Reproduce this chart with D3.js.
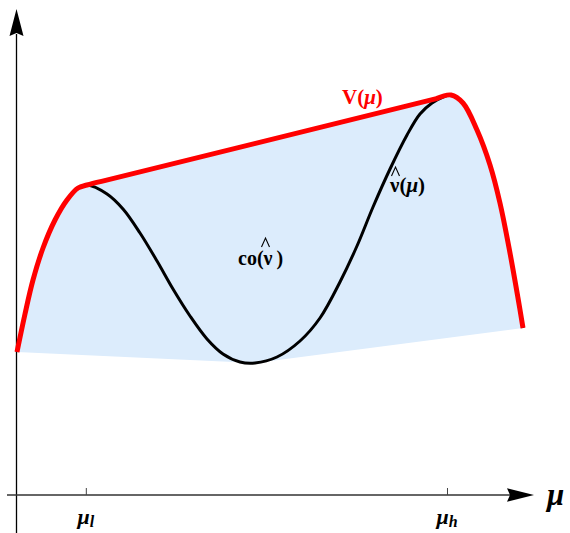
<!DOCTYPE html>
<html>
<head>
<meta charset="utf-8">
<script src="https://cdn.jsdelivr.net/npm/d3@7"></script>
<style>
  html, body { margin: 0; padding: 0; background: #fff; }
  svg { display: block; }
  text { font-family: "Liberation Serif", "Times New Roman", serif; }
</style>
</head>
<body>
<svg id="chart" width="570" height="533"></svg>
<script>
// Belief μ on [0, 1] and the value function v̂(μ) sampled along it
const mu = [0, 0.0158, 0.0316, 0.0514, 0.0751, 0.0988, 0.1206, 0.1383,
  0.1779, 0.2095, 0.2431, 0.2767, 0.3083, 0.3419, 0.3755, 0.4071, 0.4407, 0.4704,
  0.5138, 0.5593, 0.5988, 0.6383, 0.6719, 0.7036, 0.7372, 0.7708, 0.7964, 0.8202,
  0.8419, 0.8577, 0.8814, 0.9091, 0.9348, 0.9545, 0.9743, 0.9901, 1.0];
const vhat = [0.3575, 0.4525, 0.5375, 0.6175, 0.6875, 0.7375, 0.7675, 0.775,
  0.7525, 0.715, 0.655, 0.585, 0.515, 0.4475, 0.39, 0.3525, 0.3325, 0.33,
  0.345, 0.385, 0.4425, 0.5325, 0.6225, 0.72, 0.815, 0.9, 0.9525, 0.98,
  0.995, 1.0, 0.98, 0.9125, 0.825, 0.73, 0.605, 0.4925, 0.4175];
// Marked beliefs on the horizontal axis
const tickMu = [0.136, 0.8498];
const tickSub = ["l", "h"];

const svg = d3.select("#chart");
const x = d3.scaleLinear().domain([0, 1]).range([17, 523]);
const y = d3.scaleLinear().domain([0, 1]).range([495, 95]);

const pts = mu.map((m, i) => [m, vhat[i]]);

// Monotone-chain half hulls (data coordinates, y up)
function cross(o, a, b) { return (a[0] - o[0]) * (b[1] - o[1]) - (a[1] - o[1]) * (b[0] - o[0]); }
function halfHull(points, upper) {
  const h = [];
  for (const p of points) {
    while (h.length >= 2) {
      const c = cross(h[h.length - 2], h[h.length - 1], p);
      if (upper ? c >= 0 : c <= 0) h.pop(); else break;
    }
    h.push(p);
  }
  return h;
}
const upper = halfHull(pts, true);   // concave envelope V(μ)
const lower = halfHull(pts, false);  // bottom edge of co(v̂)

// The bridging chord of the envelope is its widest segment
let bi = 0;
for (let i = 1; i < upper.length - 1; i++) {
  if (upper[i + 1][0] - upper[i][0] > upper[bi + 1][0] - upper[bi][0]) bi = i;
}
const A = upper[bi], B = upper[bi + 1];
const along = t => [A[0] + t * (B[0] - A[0]), A[1] + t * (B[1] - A[1])];
// Each arc runs a short way onto the chord so it leaves/joins it tangentially
const leftArc = upper.slice(0, bi + 1).concat([along(0.04)]);
const rightArc = [along(0.96)].concat(upper.slice(bi + 1));

const px = d => [x(d[0]), y(d[1])];
const curve = d3.curveCatmullRom.alpha(0.5);

// Build a single continuous path from several pieces
function joined(pieces, close) {
  const ctx = d3.path();
  let started = false;
  const sink = {
    moveTo(a, b) { if (started) ctx.lineTo(a, b); else { ctx.moveTo(a, b); started = true; } },
    lineTo(a, b) { ctx.lineTo(a, b); },
    bezierCurveTo(a, b, c, d, e, f) { ctx.bezierCurveTo(a, b, c, d, e, f); },
    closePath() {}
  };
  for (const [data, c] of pieces) {
    d3.line().x(d => px(d)[0]).y(d => px(d)[1]).curve(c).context(sink)(data);
  }
  if (close) ctx.closePath();
  return ctx.toString();
}

// Convex hull co(v̂): envelope on top, straight lower edge back to the start
svg.append("path")
  .attr("d", joined([[leftArc, curve], [rightArc, curve], [lower.slice().reverse(), d3.curveLinear]], true))
  .attr("fill", "#dcecfc")
  .attr("stroke", "none");

// Axes
svg.append("line").attr("x1", 16.5).attr("x2", 16.5).attr("y1", 533).attr("y2", 34)
  .attr("stroke", "#000").attr("stroke-width", 1.3);
svg.append("path")
  .attr("d", "M16.5,9 L23.5,36 L16.5,33 L9.5,36 Z")
  .attr("fill", "#000");
svg.append("line").attr("x1", 7).attr("x2", 510).attr("y1", 495).attr("y2", 495)
  .attr("stroke", "#333").attr("stroke-width", 1.3);
svg.append("path")
  .attr("d", "M534,495 L507,488.3 L510,495 L507,501.7 Z")
  .attr("fill", "#000");

const xAxis = d3.axisBottom(x).tickValues(tickMu).tickSizeInner(-7).tickSizeOuter(0).tickFormat("");
const gx = svg.append("g").attr("transform", "translate(0,495)").call(xAxis);
gx.select(".domain").remove();
gx.selectAll(".tick line").attr("stroke", "#444").attr("stroke-width", 1);

// Tick labels μ_l, μ_h
tickMu.forEach((m, i) => {
  const t = svg.append("text")
    .attr("x", x(m)).attr("y", 524)
    .attr("text-anchor", "middle")
    .attr("font-size", 22).attr("font-weight", "bold").attr("font-style", "italic");
  t.append("tspan").text("μ");
  t.append("tspan").attr("font-size", 16).attr("dy", 3).text(tickSub[i]);
});

// Axis title
svg.append("text").attr("x", 547).attr("y", 505)
  .attr("font-size", 31).attr("font-weight", "bold").attr("font-style", "italic")
  .text("μ");

// v̂(μ) over the whole interval, envelope on top
svg.append("path")
  .attr("d", d3.line().x(d => x(d[0])).y(d => y(d[1])).curve(curve)(pts))
  .attr("fill", "none").attr("stroke", "#000").attr("stroke-width", 3);

svg.append("path")
  .attr("d", joined([[leftArc, curve], [rightArc, curve]], false))
  .attr("fill", "none").attr("stroke", "#ff0000").attr("stroke-width", 5)
  .attr("stroke-linejoin", "round");

// Curve labels
const vLab = svg.append("text").attr("x", 342).attr("y", 104)
  .attr("font-size", 21).attr("font-weight", "bold").attr("fill", "#ff0000");
vLab.append("tspan").text("V(");
vLab.append("tspan").attr("font-style", "italic").text("μ");
vLab.append("tspan").text(")");

const hLab = svg.append("text").attr("x", 390).attr("y", 192)
  .attr("font-size", 21).attr("font-weight", "bold").attr("fill", "#000");
hLab.append("tspan").text("ν(");
hLab.append("tspan").attr("font-style", "italic").text("μ");
hLab.append("tspan").text(")");

const cLab = svg.append("text").attr("x", 238).attr("y", 265)
  .attr("font-size", 20).attr("font-weight", "bold").attr("fill", "#000");
cLab.append("tspan").text("co(");
cLab.append("tspan").text("ν");
cLab.append("tspan").attr("dx", 4).text(")");

// Hat accents over ν
function hat(cx, top) {
  svg.append("path")
    .attr("d", `M${cx - 4},${top + 9} L${cx},${top} L${cx + 4},${top + 9}`)
    .attr("fill", "none").attr("stroke", "#000").attr("stroke-width", 1.1);
}
hat(395.5, 167);
hat(265.5, 238);
</script>
</body>
</html>
